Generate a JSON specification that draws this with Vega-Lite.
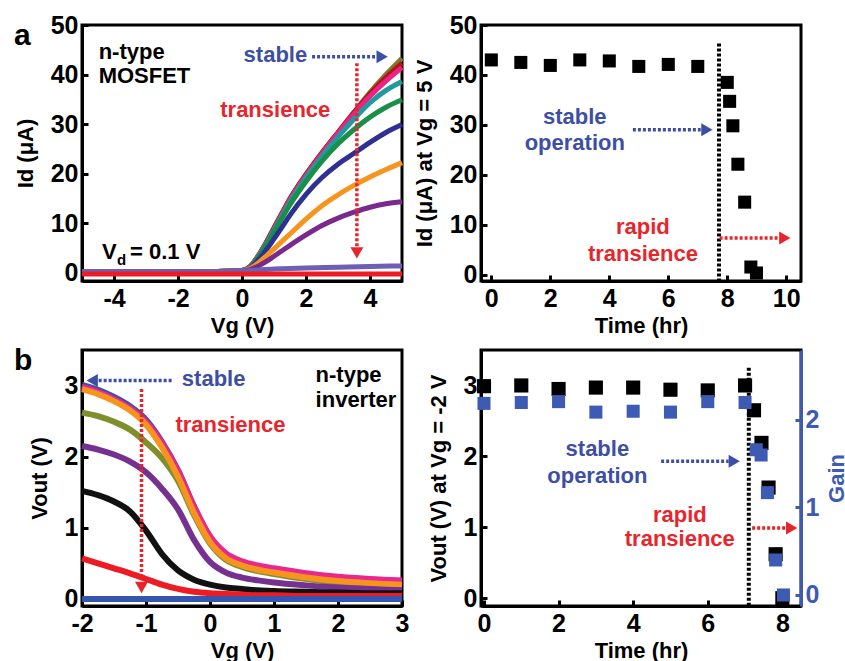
{
  "$schema": "https://vega.github.io/schema/vega-lite/v6.json",
  "background": "white",
  "padding": {"left": 12, "top": 11, "right": 0, "bottom": 0},
  "bounds": "flush",
  "columns": 2,
  "spacing": {"row": 69, "column": 79},
  "resolve": {"scale": {"color": "independent"}},
  "config": {
    "font": "Liberation Sans",
    "view": {"stroke": "black", "strokeWidth": 3},
    "axis": {"grid": false, "domainColor": "black", "domainWidth": 3, "tickColor": "black", "tickWidth": 3, "tickSize": -6, "labelFont": "Liberation Sans", "labelFontSize": 25, "labelFontWeight": "bold", "labelColor": "black", "labelPadding": 10, "labelFlush": false, "labelOverlap": false, "titleFont": "Liberation Sans", "titleFontSize": 22, "titleFontWeight": "bold", "titleColor": "black", "titlePadding": 13,
      "labelExpr": "datum.value < 0 ? '-' + abs(datum.value) : '' + datum.value"},
    "axisX": {"labelPadding": 11, "titlePadding": 4}
  },
  "datasets": {
    "aCurves": [
      {"s":"a01","x":-5,"y":0.2},{"s":"a01","x":-1,"y":0.2},{"s":"a01","x":-0.5,"y":0.25},{"s":"a01","x":0,"y":0.4},{"s":"a01","x":0.25,"y":1.2},{"s":"a01","x":0.5,"y":3.3},{"s":"a01","x":0.75,"y":6.0},{"s":"a01","x":1,"y":9.0},{"s":"a01","x":1.25,"y":12.0},{"s":"a01","x":1.5,"y":14.9},{"s":"a01","x":2,"y":19.8},{"s":"a01","x":2.5,"y":24.2},{"s":"a01","x":3,"y":28.3},{"s":"a01","x":3.5,"y":32.4},{"s":"a01","x":4,"y":36.4},{"s":"a01","x":4.5,"y":40.0},{"s":"a01","x":5,"y":43.3},
      {"s":"a02","x":-5,"y":0.2},{"s":"a02","x":-1,"y":0.2},{"s":"a02","x":-0.5,"y":0.25},{"s":"a02","x":0,"y":0.4},{"s":"a02","x":0.25,"y":1.2},{"s":"a02","x":0.5,"y":3.3},{"s":"a02","x":0.75,"y":6.0},{"s":"a02","x":1,"y":9.0},{"s":"a02","x":1.25,"y":12.0},{"s":"a02","x":1.5,"y":14.9},{"s":"a02","x":2,"y":19.8},{"s":"a02","x":2.5,"y":24.2},{"s":"a02","x":3,"y":28.3},{"s":"a02","x":3.5,"y":32.3},{"s":"a02","x":4,"y":36.1},{"s":"a02","x":4.5,"y":39.4},{"s":"a02","x":5,"y":42.3},
      {"s":"a03","x":-5,"y":0.2},{"s":"a03","x":-1,"y":0.2},{"s":"a03","x":-0.5,"y":0.25},{"s":"a03","x":0,"y":0.4},{"s":"a03","x":0.25,"y":1.1},{"s":"a03","x":0.5,"y":3.2},{"s":"a03","x":0.75,"y":5.9},{"s":"a03","x":1,"y":8.8},{"s":"a03","x":1.25,"y":11.8},{"s":"a03","x":1.5,"y":14.7},{"s":"a03","x":2,"y":19.6},{"s":"a03","x":2.5,"y":24.0},{"s":"a03","x":3,"y":28.1},{"s":"a03","x":3.5,"y":32.0},{"s":"a03","x":4,"y":35.6},{"s":"a03","x":4.5,"y":38.7},{"s":"a03","x":5,"y":41.4},
      {"s":"a04","x":-5,"y":0.2},{"s":"a04","x":-1,"y":0.2},{"s":"a04","x":-0.5,"y":0.25},{"s":"a04","x":0,"y":0.4},{"s":"a04","x":0.25,"y":1.0},{"s":"a04","x":0.5,"y":3.1},{"s":"a04","x":0.75,"y":5.7},{"s":"a04","x":1,"y":8.6},{"s":"a04","x":1.25,"y":11.5},{"s":"a04","x":1.5,"y":14.3},{"s":"a04","x":2,"y":19.2},{"s":"a04","x":2.5,"y":23.5},{"s":"a04","x":3,"y":27.4},{"s":"a04","x":3.5,"y":31.0},{"s":"a04","x":4,"y":34.3},{"s":"a04","x":4.5,"y":36.8},{"s":"a04","x":5,"y":38.6},
      {"s":"a05","x":-5,"y":0.2},{"s":"a05","x":-1,"y":0.2},{"s":"a05","x":-0.5,"y":0.25},{"s":"a05","x":0,"y":0.4},{"s":"a05","x":0.25,"y":1.0},{"s":"a05","x":0.5,"y":3.0},{"s":"a05","x":0.75,"y":5.5},{"s":"a05","x":1,"y":8.2},{"s":"a05","x":1.25,"y":11.0},{"s":"a05","x":1.5,"y":13.7},{"s":"a05","x":2,"y":18.4},{"s":"a05","x":2.5,"y":22.5},{"s":"a05","x":3,"y":26.0},{"s":"a05","x":3.5,"y":28.9},{"s":"a05","x":4,"y":31.4},{"s":"a05","x":4.5,"y":33.4},{"s":"a05","x":5,"y":34.9},
      {"s":"a06","x":-5,"y":0.2},{"s":"a06","x":-1,"y":0.2},{"s":"a06","x":-0.5,"y":0.25},{"s":"a06","x":0,"y":0.35},{"s":"a06","x":0.25,"y":0.9},{"s":"a06","x":0.5,"y":2.5},{"s":"a06","x":0.75,"y":4.5},{"s":"a06","x":1,"y":6.8},{"s":"a06","x":1.25,"y":9.2},{"s":"a06","x":1.5,"y":11.6},{"s":"a06","x":2,"y":15.8},{"s":"a06","x":2.5,"y":19.2},{"s":"a06","x":3,"y":21.9},{"s":"a06","x":3.5,"y":24.1},{"s":"a06","x":4,"y":26.3},{"s":"a06","x":4.5,"y":28.3},{"s":"a06","x":5,"y":29.9},
      {"s":"a07","x":-5,"y":0.2},{"s":"a07","x":-1,"y":0.2},{"s":"a07","x":-0.5,"y":0.25},{"s":"a07","x":0,"y":0.35},{"s":"a07","x":0.25,"y":0.8},{"s":"a07","x":0.5,"y":1.9},{"s":"a07","x":0.75,"y":3.3},{"s":"a07","x":1,"y":4.8},{"s":"a07","x":1.25,"y":6.3},{"s":"a07","x":1.5,"y":7.8},{"s":"a07","x":2,"y":10.8},{"s":"a07","x":2.5,"y":13.5},{"s":"a07","x":3,"y":15.7},{"s":"a07","x":3.5,"y":17.6},{"s":"a07","x":4,"y":19.3},{"s":"a07","x":4.5,"y":20.8},{"s":"a07","x":5,"y":22.2},
      {"s":"a08","x":-5,"y":0.2},{"s":"a08","x":-1,"y":0.2},{"s":"a08","x":-0.5,"y":0.22},{"s":"a08","x":0,"y":0.3},{"s":"a08","x":0.25,"y":0.6},{"s":"a08","x":0.5,"y":1.3},{"s":"a08","x":0.75,"y":2.2},{"s":"a08","x":1,"y":3.3},{"s":"a08","x":1.25,"y":4.4},{"s":"a08","x":1.5,"y":5.5},{"s":"a08","x":2,"y":7.6},{"s":"a08","x":2.5,"y":9.5},{"s":"a08","x":3,"y":11.0},{"s":"a08","x":3.5,"y":12.2},{"s":"a08","x":4,"y":13.2},{"s":"a08","x":4.5,"y":13.9},{"s":"a08","x":5,"y":14.3},
      {"s":"a09","x":-5,"y":0.2},{"s":"a09","x":-1,"y":0.2},{"s":"a09","x":0,"y":0.35},{"s":"a09","x":1,"y":0.7},{"s":"a09","x":2,"y":0.95},{"s":"a09","x":3,"y":1.1},{"s":"a09","x":4,"y":1.25},{"s":"a09","x":5,"y":1.35},
      {"s":"a10","x":-5,"y":-0.3},{"s":"a10","x":0,"y":-0.3},{"s":"a10","x":5,"y":-0.3}
    ],
    "bCurves": [
      {"s":"b01","x":-2,"y":3.01},{"s":"b01","x":-1.75,"y":2.94},{"s":"b01","x":-1.5,"y":2.84},{"s":"b01","x":-1.25,"y":2.71},{"s":"b01","x":-1,"y":2.52},{"s":"b01","x":-0.75,"y":2.21},{"s":"b01","x":-0.5,"y":1.81},{"s":"b01","x":-0.25,"y":1.3},{"s":"b01","x":0,"y":0.87},{"s":"b01","x":0.25,"y":0.62},{"s":"b01","x":0.5,"y":0.51},{"s":"b01","x":0.75,"y":0.45},{"s":"b01","x":1,"y":0.41},{"s":"b01","x":1.5,"y":0.34},{"s":"b01","x":2,"y":0.29},{"s":"b01","x":2.5,"y":0.26},{"s":"b01","x":3,"y":0.24},
      {"s":"b02","x":-2,"y":2.98},{"s":"b02","x":-1.75,"y":2.91},{"s":"b02","x":-1.5,"y":2.81},{"s":"b02","x":-1.25,"y":2.68},{"s":"b02","x":-1,"y":2.49},{"s":"b02","x":-0.75,"y":2.19},{"s":"b02","x":-0.5,"y":1.8},{"s":"b02","x":-0.25,"y":1.3},{"s":"b02","x":0,"y":0.88},{"s":"b02","x":0.25,"y":0.64},{"s":"b02","x":0.5,"y":0.53},{"s":"b02","x":0.75,"y":0.47},{"s":"b02","x":1,"y":0.43},{"s":"b02","x":1.5,"y":0.36},{"s":"b02","x":2,"y":0.31},{"s":"b02","x":2.5,"y":0.28},{"s":"b02","x":3,"y":0.26},
      {"s":"b03","x":-2,"y":2.62},{"s":"b03","x":-1.75,"y":2.57},{"s":"b03","x":-1.5,"y":2.49},{"s":"b03","x":-1.25,"y":2.38},{"s":"b03","x":-1,"y":2.2},{"s":"b03","x":-0.75,"y":1.98},{"s":"b03","x":-0.5,"y":1.66},{"s":"b03","x":-0.25,"y":1.18},{"s":"b03","x":0,"y":0.78},{"s":"b03","x":0.25,"y":0.55},{"s":"b03","x":0.5,"y":0.45},{"s":"b03","x":0.75,"y":0.39},{"s":"b03","x":1,"y":0.35},{"s":"b03","x":1.5,"y":0.28},{"s":"b03","x":2,"y":0.23},{"s":"b03","x":2.5,"y":0.2},{"s":"b03","x":3,"y":0.18},
      {"s":"b04","x":-2,"y":2.95},{"s":"b04","x":-1.75,"y":2.88},{"s":"b04","x":-1.5,"y":2.78},{"s":"b04","x":-1.25,"y":2.65},{"s":"b04","x":-1,"y":2.45},{"s":"b04","x":-0.75,"y":2.13},{"s":"b04","x":-0.5,"y":1.72},{"s":"b04","x":-0.25,"y":1.21},{"s":"b04","x":0,"y":0.8},{"s":"b04","x":0.25,"y":0.57},{"s":"b04","x":0.5,"y":0.47},{"s":"b04","x":0.75,"y":0.41},{"s":"b04","x":1,"y":0.37},{"s":"b04","x":1.5,"y":0.3},{"s":"b04","x":2,"y":0.25},{"s":"b04","x":2.5,"y":0.22},{"s":"b04","x":3,"y":0.2},
      {"s":"b05","x":-2,"y":2.15},{"s":"b05","x":-1.75,"y":2.1},{"s":"b05","x":-1.5,"y":2.03},{"s":"b05","x":-1.25,"y":1.93},{"s":"b05","x":-1,"y":1.78},{"s":"b05","x":-0.75,"y":1.55},{"s":"b05","x":-0.5,"y":1.26},{"s":"b05","x":-0.25,"y":0.83},{"s":"b05","x":0,"y":0.52},{"s":"b05","x":0.25,"y":0.37},{"s":"b05","x":0.5,"y":0.3},{"s":"b05","x":0.75,"y":0.26},{"s":"b05","x":1,"y":0.23},{"s":"b05","x":1.5,"y":0.19},{"s":"b05","x":2,"y":0.16},{"s":"b05","x":2.5,"y":0.14},{"s":"b05","x":3,"y":0.12},
      {"s":"b06","x":-2,"y":1.52},{"s":"b06","x":-1.75,"y":1.46},{"s":"b06","x":-1.5,"y":1.37},{"s":"b06","x":-1.25,"y":1.23},{"s":"b06","x":-1,"y":0.96},{"s":"b06","x":-0.75,"y":0.63},{"s":"b06","x":-0.5,"y":0.4},{"s":"b06","x":-0.25,"y":0.27},{"s":"b06","x":0,"y":0.2},{"s":"b06","x":0.25,"y":0.16},{"s":"b06","x":0.5,"y":0.14},{"s":"b06","x":0.75,"y":0.12},{"s":"b06","x":1,"y":0.11},{"s":"b06","x":1.5,"y":0.1},{"s":"b06","x":2,"y":0.09},{"s":"b06","x":2.5,"y":0.08},{"s":"b06","x":3,"y":0.08},
      {"s":"b07","x":-2,"y":0.57},{"s":"b07","x":-1.75,"y":0.5},{"s":"b07","x":-1.5,"y":0.43},{"s":"b07","x":-1.25,"y":0.36},{"s":"b07","x":-1,"y":0.28},{"s":"b07","x":-0.75,"y":0.2},{"s":"b07","x":-0.5,"y":0.14},{"s":"b07","x":-0.25,"y":0.1},{"s":"b07","x":0,"y":0.08},{"s":"b07","x":0.25,"y":0.07},{"s":"b07","x":0.5,"y":0.06},{"s":"b07","x":0.75,"y":0.05},{"s":"b07","x":1,"y":0.05},{"s":"b07","x":1.5,"y":0.04},{"s":"b07","x":2,"y":0.04},{"s":"b07","x":2.5,"y":0.04},{"s":"b07","x":3,"y":0.04},
      {"s":"b08","x":-2,"y":0},{"s":"b08","x":3,"y":0}
    ],
    "aPts": [
      {"x":0,"y":43.0},{"x":1,"y":42.5},{"x":2,"y":41.9},{"x":3,"y":43.0},{"x":4,"y":42.8},{"x":5,"y":41.7},{"x":6,"y":42.1},{"x":7,"y":41.7},
      {"x":8.0,"y":38.5},{"x":8.08,"y":34.7},{"x":8.19,"y":29.8},{"x":8.36,"y":22.1},{"x":8.59,"y":14.5},{"x":8.8,"y":1.5},{"x":8.99,"y":0.3}
    ],
    "bVout": [
      {"x":0,"y":2.99},{"x":1,"y":3.0},{"x":2,"y":2.95},{"x":3,"y":2.97},{"x":4,"y":2.97},{"x":5,"y":2.94},{"x":6,"y":2.93},{"x":7,"y":3.0},
      {"x":7.24,"y":2.65},{"x":7.44,"y":2.19},{"x":7.63,"y":1.56},{"x":7.82,"y":0.62},{"x":8.0,"y":0.0}
    ],
    "bGain": [
      {"x":0,"g":2.19},{"x":1,"g":2.2},{"x":2,"g":2.21},{"x":3,"g":2.09},{"x":4,"g":2.1},{"x":5,"g":2.09},{"x":6,"g":2.21},{"x":7,"g":2.2},
      {"x":7.3,"g":1.66},{"x":7.43,"g":1.6},{"x":7.6,"g":1.17},{"x":7.82,"g":0.4},{"x":8.03,"g":0.0}
    ]
  },
  "concat": [
    {
      "width": 320, "height": 256,
      "title": {"text": "a", "anchor": "start", "frame": "group", "dx": -68, "dy": 62, "offset": 0, "fontSize": 30, "fontWeight": "bold", "font": "Liberation Sans", "baseline": "alphabetic", "color": "black"},
      "encoding": {
        "x": {"field": "x", "type": "quantitative", "scale": {"domain": [-5, 5], "nice": false, "zero": false}, "axis": {"values": [-4, -2, 0, 2, 4], "title": "Vg (V)"}},
        "y": {"field": "y", "type": "quantitative", "scale": {"domain": [-1.7, 50], "nice": false, "zero": false}, "axis": {"values": [0, 10, 20, 30, 40, 50], "title": "Id (μA)"}}
      },
      "layer": [
        {"data": {"name": "aCurves"}, "mark": {"type": "line", "strokeWidth": 5, "interpolate": "monotone"},
         "encoding": {"color": {"field": "s", "type": "nominal", "legend": null,
           "scale": {"domain": ["a01","a02","a03","a04","a05","a06","a07","a08","a09","a10"],
                     "range": ["#7d7a2e","#b5121b","#ec2285","#1f9a9e","#1a8f4a","#2e3192","#f7941d","#7a2a8c","#6c5fb5","#ed1c24"]}}}},
        {"data": {"values": [{"x": -4.48, "y": 43.2, "t": "n-type"}, {"x": -4.48, "y": 38.2, "t": "MOSFET"}]},
         "mark": {"type": "text", "fontSize": 22, "fontWeight": "bold", "align": "left", "baseline": "alphabetic", "color": "black"},
         "encoding": {"text": {"field": "t"}}},
        {"data": {"values": [{"x": -4.375, "y": 2.8, "t": "V"}]},
         "mark": {"type": "text", "fontSize": 22, "fontWeight": "bold", "align": "left", "baseline": "alphabetic", "color": "black"},
         "encoding": {"text": {"field": "t"}}},
        {"data": {"values": [{"x": -4.375, "y": 2.8, "t": "d"}]},
         "mark": {"type": "text", "fontSize": 15, "fontWeight": "bold", "align": "left", "baseline": "alphabetic", "color": "black", "dx": 15, "dy": 6},
         "encoding": {"text": {"field": "t"}}},
        {"data": {"values": [{"x": -4.375, "y": 2.8, "t": "= 0.1 V"}]},
         "mark": {"type": "text", "fontSize": 22, "fontWeight": "bold", "align": "left", "baseline": "alphabetic", "color": "black", "dx": 28},
         "encoding": {"text": {"field": "t"}}},
        {"data": {"values": [{"x": 0.05, "y": 42.6, "t": "stable"}]},
         "mark": {"type": "text", "fontSize": 22, "fontWeight": "bold", "align": "left", "baseline": "alphabetic", "color": "#3d4fa5"},
         "encoding": {"text": {"field": "t"}}},
        {"data": {"values": [{"x": -0.68, "y": 31.5, "t": "transience"}]},
         "mark": {"type": "text", "fontSize": 22, "fontWeight": "bold", "align": "left", "baseline": "alphabetic", "color": "#e8252b"},
         "encoding": {"text": {"field": "t"}}},
        {"data": {"values": [{"x": 2.19, "x2": 4.16, "y": 43.6}]},
         "mark": {"type": "rule", "strokeWidth": 3.5, "strokeDash": [3, 2], "color": "#3d4fa5"},
         "encoding": {"x2": {"field": "x2"}}},
        {"data": {"values": [{"x": 4.38, "y": 43.6}]},
         "mark": {"type": "point", "shape": "triangle-right", "filled": true, "size": 170, "color": "#3d4fa5", "opacity": 1}},
        {"data": {"values": [{"x": 3.59, "y": 42.3, "y2": 5.3}]},
         "mark": {"type": "rule", "strokeWidth": 3.5, "strokeDash": [3, 2], "color": "#e8252b"},
         "encoding": {"y2": {"field": "y2"}}},
        {"data": {"values": [{"x": 3.59, "y": 4.0}]},
         "mark": {"type": "point", "shape": "triangle-down", "filled": true, "size": 170, "color": "#e8252b", "opacity": 1}}
      ]
    },
    {
      "width": 320, "height": 256,
      "encoding": {
        "x": {"field": "x", "type": "quantitative", "scale": {"domain": [-0.35, 10.5], "nice": false, "zero": false}, "axis": {"values": [0, 2, 4, 6, 8, 10], "title": "Time (hr)"}},
        "y": {"field": "y", "type": "quantitative", "scale": {"domain": [-1.3, 50], "nice": false, "zero": false}, "axis": {"values": [0, 10, 20, 30, 40, 50], "title": "Id (μA) at Vg = 5 V"}}
      },
      "layer": [
        {"data": {"values": [{"x": 7.72, "y": 46.3, "y2": -1.3}]},
         "mark": {"type": "rule", "strokeWidth": 4, "strokeDash": [3, 2], "color": "black"},
         "encoding": {"y2": {"field": "y2"}}},
        {"data": {"name": "aPts"}, "mark": {"type": "point", "shape": "square", "filled": true, "size": 170, "color": "black", "opacity": 1}},
        {"data": {"values": [{"x": 2.83, "y": 30.2, "t": "stable"}, {"x": 2.83, "y": 25.0, "t": "operation"}]},
         "mark": {"type": "text", "fontSize": 22, "fontWeight": "bold", "align": "center", "baseline": "alphabetic", "color": "#3d4fa5"},
         "encoding": {"text": {"field": "t"}}},
        {"data": {"values": [{"x": 4.8, "x2": 7.1, "y": 29.0}]},
         "mark": {"type": "rule", "strokeWidth": 3.5, "strokeDash": [3, 2], "color": "#3d4fa5"},
         "encoding": {"x2": {"field": "x2"}}},
        {"data": {"values": [{"x": 7.31, "y": 29.0}]},
         "mark": {"type": "point", "shape": "triangle-right", "filled": true, "size": 170, "color": "#3d4fa5", "opacity": 1}},
        {"data": {"values": [{"x": 5.14, "y": 8.2, "t": "rapid"}, {"x": 5.14, "y": 2.8, "t": "transience"}]},
         "mark": {"type": "text", "fontSize": 22, "fontWeight": "bold", "align": "center", "baseline": "alphabetic", "color": "#e8252b"},
         "encoding": {"text": {"field": "t"}}},
        {"data": {"values": [{"x": 7.74, "x2": 9.72, "y": 7.3}]},
         "mark": {"type": "rule", "strokeWidth": 3.5, "strokeDash": [3, 2], "color": "#e8252b"},
         "encoding": {"x2": {"field": "x2"}}},
        {"data": {"values": [{"x": 9.95, "y": 7.3}]},
         "mark": {"type": "point", "shape": "triangle-right", "filled": true, "size": 170, "color": "#e8252b", "opacity": 1}}
      ]
    },
    {
      "width": 320, "height": 256,
      "title": {"text": "b", "anchor": "start", "frame": "group", "dx": -68, "dy": 50, "offset": 0, "fontSize": 30, "fontWeight": "bold", "font": "Liberation Sans", "baseline": "alphabetic", "color": "black"},
      "encoding": {
        "x": {"field": "x", "type": "quantitative", "scale": {"domain": [-2, 3], "nice": false, "zero": false}, "axis": {"values": [-2, -1, 0, 1, 2, 3], "title": "Vg (V)"}},
        "y": {"field": "y", "type": "quantitative", "scale": {"domain": [-0.1, 3.5], "nice": false, "zero": false}, "axis": {"values": [0, 1, 2, 3], "title": "Vout (V)"}}
      },
      "layer": [
        {"data": {"name": "bCurves"}, "mark": {"type": "line", "strokeWidth": 6, "interpolate": "monotone"},
         "encoding": {"color": {"field": "s", "type": "nominal", "legend": null,
           "scale": {"domain": ["b01","b02","b03","b04","b05","b06","b07","b08"],
                     "range": ["#3a50a8","#e8288f","#7f8f2c","#f7941d","#76308f","#111111","#ed1c24","#3556b0"]}}}},
        {"data": {"values": [{"x": -0.44, "y": 3.0, "t": "stable"}]},
         "mark": {"type": "text", "fontSize": 22, "fontWeight": "bold", "align": "left", "baseline": "alphabetic", "color": "#3d4fa5"},
         "encoding": {"text": {"field": "t"}}},
        {"data": {"values": [{"x": 1.65, "y": 3.05, "t": "n-type"}, {"x": 1.65, "y": 2.7, "t": "inverter"}]},
         "mark": {"type": "text", "fontSize": 22, "fontWeight": "bold", "align": "left", "baseline": "alphabetic", "color": "black"},
         "encoding": {"text": {"field": "t"}}},
        {"data": {"values": [{"x": -0.54, "y": 2.34, "t": "transience"}]},
         "mark": {"type": "text", "fontSize": 22, "fontWeight": "bold", "align": "left", "baseline": "alphabetic", "color": "#e8252b"},
         "encoding": {"text": {"field": "t"}}},
        {"data": {"values": [{"x": -1.74, "x2": -0.59, "y": 3.07}]},
         "mark": {"type": "rule", "strokeWidth": 3.5, "strokeDash": [3, 2], "color": "#3d4fa5"},
         "encoding": {"x2": {"field": "x2"}}},
        {"data": {"values": [{"x": -1.84, "y": 3.07}]},
         "mark": {"type": "point", "shape": "triangle-left", "filled": true, "size": 170, "color": "#3d4fa5", "opacity": 1}},
        {"data": {"values": [{"x": -1.07, "y": 2.95, "y2": 0.33}]},
         "mark": {"type": "rule", "strokeWidth": 3.5, "strokeDash": [3, 2], "color": "#e8252b"},
         "encoding": {"y2": {"field": "y2"}}},
        {"data": {"values": [{"x": -1.07, "y": 0.16}]},
         "mark": {"type": "point", "shape": "triangle-down", "filled": true, "size": 170, "color": "#e8252b", "opacity": 1}}
      ]
    },
    {
      "width": 320, "height": 256,
      "encoding": {
        "x": {"field": "x", "type": "quantitative", "scale": {"domain": [-0.08, 8.5], "nice": false, "zero": false}, "axis": {"values": [0, 2, 4, 6, 8], "title": "Time (hr)"}}
      },
      "layer": [
        {
          "encoding": {
            "y": {"field": "y", "type": "quantitative", "scale": {"domain": [-0.11, 3.5], "nice": false, "zero": false}, "axis": {"values": [0, 1, 2, 3], "title": "Vout (V) at Vg = -2 V"}}
          },
          "layer": [
            {"data": {"values": [{"x": 7.1, "y": 3.25, "y2": -0.11}]},
             "mark": {"type": "rule", "strokeWidth": 4, "strokeDash": [3, 2], "color": "black"},
             "encoding": {"y2": {"field": "y2"}}},
            {"data": {"name": "bVout"}, "mark": {"type": "point", "shape": "square", "filled": true, "size": 200, "color": "black", "opacity": 1}},
            {"data": {"values": [{"x": 3.04, "y": 2.0, "t": "stable"}, {"x": 3.04, "y": 1.63, "t": "operation"}]},
             "mark": {"type": "text", "fontSize": 22, "fontWeight": "bold", "align": "center", "baseline": "alphabetic", "color": "#3d4fa5"},
             "encoding": {"text": {"field": "t"}}},
            {"data": {"values": [{"x": 4.75, "x2": 6.56, "y": 1.93}]},
             "mark": {"type": "rule", "strokeWidth": 3.5, "strokeDash": [3, 2], "color": "#3d4fa5"},
             "encoding": {"x2": {"field": "x2"}}},
            {"data": {"values": [{"x": 6.71, "y": 1.93}]},
             "mark": {"type": "point", "shape": "triangle-right", "filled": true, "size": 170, "color": "#3d4fa5", "opacity": 1}},
            {"data": {"values": [{"x": 5.25, "y": 1.08, "t": "rapid"}, {"x": 5.25, "y": 0.73, "t": "transience"}]},
             "mark": {"type": "text", "fontSize": 22, "fontWeight": "bold", "align": "center", "baseline": "alphabetic", "color": "#e8252b"},
             "encoding": {"text": {"field": "t"}}},
            {"data": {"values": [{"x": 7.19, "x2": 8.09, "y": 0.99}]},
             "mark": {"type": "rule", "strokeWidth": 3.5, "strokeDash": [3, 2], "color": "#e8252b"},
             "encoding": {"x2": {"field": "x2"}}},
            {"data": {"values": [{"x": 8.25, "y": 0.99}]},
             "mark": {"type": "point", "shape": "triangle-right", "filled": true, "size": 170, "color": "#e8252b", "opacity": 1}}
          ]
        },
        {"data": {"name": "bGain"}, "mark": {"type": "point", "shape": "square", "filled": true, "size": 170, "color": "#3d5bb3", "opacity": 1},
         "encoding": {"y": {"field": "g", "type": "quantitative", "scale": {"domain": [-0.126, 2.8], "nice": false, "zero": false},
           "axis": {"orient": "right", "values": [0, 1, 2], "title": "Gain", "titleAngle": 270, "titleBaseline": "top", "titlePadding": 8, "domainColor": "#3d5bb3", "tickColor": "#3d5bb3", "labelColor": "#3d5bb3", "titleColor": "#3d5bb3"}}}}
      ],
      "resolve": {"scale": {"y": "independent"}}
    }
  ]
}
